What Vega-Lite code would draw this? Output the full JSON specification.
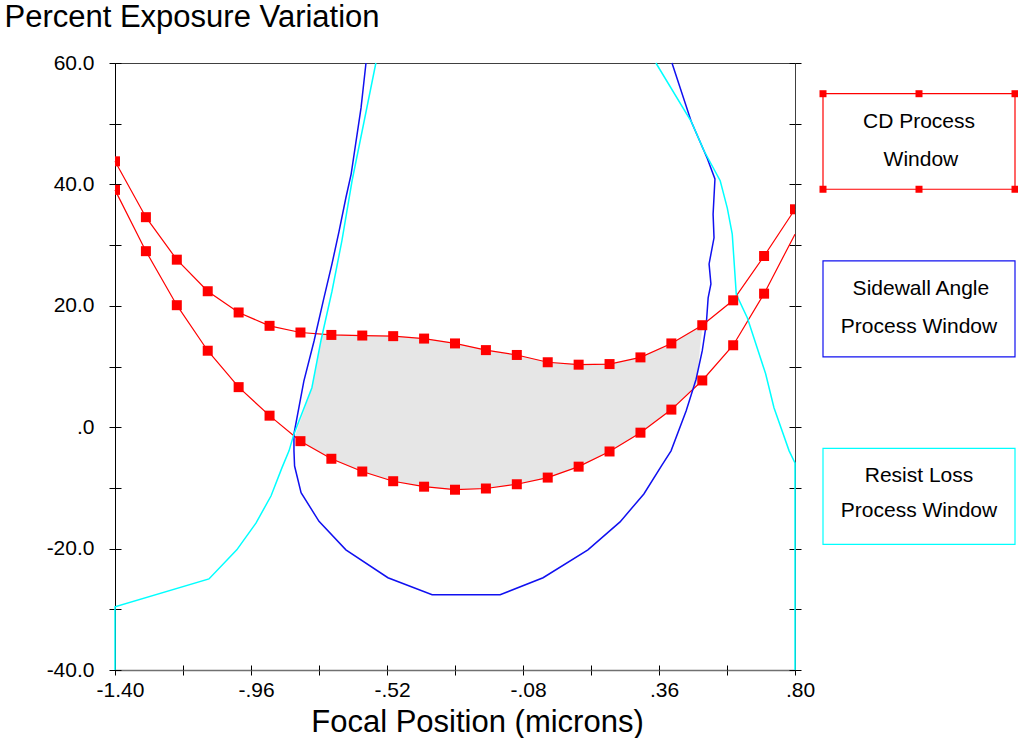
{
  "$schema": "https://vega.github.io/schema/vega-lite/v6.json",
  "padding": {"left": 3, "top": 0, "right": 0, "bottom": 0},
  "background": "white",
  "config": {
    "font": "Liberation Sans",
    "axis": {"labelFont": "Liberation Sans", "titleFont": "Liberation Sans", "grid": false, "tickColor": "#000", "labelColor": "#000", "titleColor": "#000", "titleFontWeight": "normal", "labelFontSize": 21, "tickWidth": 1},
    "text": {"font": "Liberation Sans"}
  },
  "datasets": {
    "cd": [
      {"curve": "upper", "x": -1.4, "y": 43.8}, {"curve": "upper", "x": -1.3, "y": 34.6}, {"curve": "upper", "x": -1.2, "y": 27.6}, {"curve": "upper", "x": -1.1, "y": 22.4}, {"curve": "upper", "x": -1.0, "y": 18.9}, {"curve": "upper", "x": -0.9, "y": 16.7}, {"curve": "upper", "x": -0.8, "y": 15.6}, {"curve": "upper", "x": -0.7, "y": 15.2}, {"curve": "upper", "x": -0.6, "y": 15.1}, {"curve": "upper", "x": -0.5, "y": 15.0}, {"curve": "upper", "x": -0.4, "y": 14.6}, {"curve": "upper", "x": -0.3, "y": 13.8}, {"curve": "upper", "x": -0.2, "y": 12.7}, {"curve": "upper", "x": -0.1, "y": 11.9}, {"curve": "upper", "x": 0.0, "y": 10.7}, {"curve": "upper", "x": 0.1, "y": 10.3}, {"curve": "upper", "x": 0.2, "y": 10.4}, {"curve": "upper", "x": 0.3, "y": 11.5}, {"curve": "upper", "x": 0.4, "y": 13.8}, {"curve": "upper", "x": 0.5, "y": 16.8}, {"curve": "upper", "x": 0.6, "y": 20.9}, {"curve": "upper", "x": 0.7, "y": 28.2}, {"curve": "upper", "x": 0.8, "y": 35.9},
      {"curve": "lower", "x": -1.4, "y": 39.1}, {"curve": "lower", "x": -1.3, "y": 29.0}, {"curve": "lower", "x": -1.2, "y": 20.1}, {"curve": "lower", "x": -1.1, "y": 12.6}, {"curve": "lower", "x": -1.0, "y": 6.6}, {"curve": "lower", "x": -0.9, "y": 1.9}, {"curve": "lower", "x": -0.8, "y": -2.3}, {"curve": "lower", "x": -0.7, "y": -5.2}, {"curve": "lower", "x": -0.6, "y": -7.3}, {"curve": "lower", "x": -0.5, "y": -8.9}, {"curve": "lower", "x": -0.4, "y": -9.8}, {"curve": "lower", "x": -0.3, "y": -10.3}, {"curve": "lower", "x": -0.2, "y": -10.1}, {"curve": "lower", "x": -0.1, "y": -9.4}, {"curve": "lower", "x": 0.0, "y": -8.3}, {"curve": "lower", "x": 0.1, "y": -6.5}, {"curve": "lower", "x": 0.2, "y": -4.0}, {"curve": "lower", "x": 0.3, "y": -0.9}, {"curve": "lower", "x": 0.4, "y": 2.9}, {"curve": "lower", "x": 0.5, "y": 7.7}, {"curve": "lower", "x": 0.6, "y": 13.5}, {"curve": "lower", "x": 0.7, "y": 22.0}, {"curve": "lower", "x": 0.8, "y": 31.8}
    ],
    "swa": [
      {"i": 0, "x": -0.588, "y": 60}, {"i": 1, "x": -0.604, "y": 52.6}, {"i": 2, "x": -0.636, "y": 41.7}, {"i": 3, "x": -0.653, "y": 37.8}, {"i": 4, "x": -0.675, "y": 32.3}, {"i": 5, "x": -0.698, "y": 26.9}, {"i": 6, "x": -0.724, "y": 21.3}, {"i": 7, "x": -0.756, "y": 14.2}, {"i": 8, "x": -0.789, "y": 7.6}, {"i": 9, "x": -0.821, "y": -1.1}, {"i": 10, "x": -0.821, "y": -3.9}, {"i": 11, "x": -0.819, "y": -6.4}, {"i": 12, "x": -0.798, "y": -10.8}, {"i": 13, "x": -0.74, "y": -15.5}, {"i": 14, "x": -0.653, "y": -20.2}, {"i": 15, "x": -0.517, "y": -24.8}, {"i": 16, "x": -0.374, "y": -27.6}, {"i": 17, "x": -0.154, "y": -27.6}, {"i": 18, "x": -0.015, "y": -24.8}, {"i": 19, "x": 0.13, "y": -20.2}, {"i": 20, "x": 0.234, "y": -15.6}, {"i": 21, "x": 0.311, "y": -11.0}, {"i": 22, "x": 0.37, "y": -6.2}, {"i": 23, "x": 0.399, "y": -3.9}, {"i": 24, "x": 0.448, "y": 2.7}, {"i": 25, "x": 0.48, "y": 7.9}, {"i": 26, "x": 0.5, "y": 12.6}, {"i": 27, "x": 0.513, "y": 17.0}, {"i": 28, "x": 0.519, "y": 21.3}, {"i": 29, "x": 0.528, "y": 23.6}, {"i": 30, "x": 0.522, "y": 26.9}, {"i": 31, "x": 0.538, "y": 31.2}, {"i": 32, "x": 0.535, "y": 35.1}, {"i": 33, "x": 0.541, "y": 40.9}, {"i": 34, "x": 0.516, "y": 44.3}, {"i": 35, "x": 0.464, "y": 50.4}, {"i": 36, "x": 0.402, "y": 60}
    ],
    "rl": [
      {"branch": "L", "i": 0, "x": -1.4, "y": -40}, {"branch": "L", "i": 1, "x": -1.4, "y": -29.6}, {"branch": "L", "i": 2, "x": -1.096, "y": -25.0}, {"branch": "L", "i": 3, "x": -1.006, "y": -20.2}, {"branch": "L", "i": 4, "x": -0.944, "y": -15.8}, {"branch": "L", "i": 5, "x": -0.895, "y": -11.3}, {"branch": "L", "i": 6, "x": -0.86, "y": -6.7}, {"branch": "L", "i": 7, "x": -0.837, "y": -3.9}, {"branch": "L", "i": 8, "x": -0.821, "y": -1.1}, {"branch": "L", "i": 9, "x": -0.763, "y": 6.5}, {"branch": "L", "i": 10, "x": -0.734, "y": 14.2}, {"branch": "L", "i": 11, "x": -0.698, "y": 22.4}, {"branch": "L", "i": 12, "x": -0.666, "y": 30.7}, {"branch": "L", "i": 13, "x": -0.633, "y": 40.6}, {"branch": "L", "i": 14, "x": -0.594, "y": 50.4}, {"branch": "L", "i": 15, "x": -0.556, "y": 60},
      {"branch": "R", "i": 16, "x": 0.35, "y": 60}, {"branch": "R", "i": 17, "x": 0.464, "y": 50.4}, {"branch": "R", "i": 18, "x": 0.506, "y": 45.5}, {"branch": "R", "i": 19, "x": 0.558, "y": 40.6}, {"branch": "R", "i": 20, "x": 0.581, "y": 36.1}, {"branch": "R", "i": 21, "x": 0.597, "y": 31.8}, {"branch": "R", "i": 22, "x": 0.61, "y": 21.9}, {"branch": "R", "i": 23, "x": 0.646, "y": 18.0}, {"branch": "R", "i": 24, "x": 0.705, "y": 8.8}, {"branch": "R", "i": 25, "x": 0.732, "y": 3.2}, {"branch": "R", "i": 26, "x": 0.781, "y": -3.9}, {"branch": "R", "i": 27, "x": 0.8, "y": -5.9}, {"branch": "R", "i": 28, "x": 0.8, "y": -40}
    ],
    "poly": [
      {"i": 0, "x": -0.818, "y": -1.6}, {"i": 1, "x": -0.763, "y": 6.5}, {"i": 2, "x": -0.729, "y": 15.3}, {"i": 3, "x": -0.7, "y": 15.2}, {"i": 4, "x": -0.6, "y": 15.1}, {"i": 5, "x": -0.5, "y": 15.0}, {"i": 6, "x": -0.4, "y": 14.6}, {"i": 7, "x": -0.3, "y": 13.8}, {"i": 8, "x": -0.2, "y": 12.7}, {"i": 9, "x": -0.1, "y": 11.9}, {"i": 10, "x": 0.0, "y": 10.7}, {"i": 11, "x": 0.1, "y": 10.3}, {"i": 12, "x": 0.2, "y": 10.4}, {"i": 13, "x": 0.3, "y": 11.5}, {"i": 14, "x": 0.4, "y": 13.8}, {"i": 15, "x": 0.5, "y": 16.8}, {"i": 16, "x": 0.49, "y": 12.0}, {"i": 17, "x": 0.482, "y": 7.0}, {"i": 18, "x": 0.4, "y": 2.9}, {"i": 19, "x": 0.3, "y": -0.9}, {"i": 20, "x": 0.2, "y": -4.0}, {"i": 21, "x": 0.1, "y": -6.5}, {"i": 22, "x": 0.0, "y": -8.3}, {"i": 23, "x": -0.1, "y": -9.4}, {"i": 24, "x": -0.2, "y": -10.1}, {"i": 25, "x": -0.3, "y": -10.3}, {"i": 26, "x": -0.4, "y": -9.8}, {"i": 27, "x": -0.5, "y": -8.9}, {"i": 28, "x": -0.6, "y": -7.3}, {"i": 29, "x": -0.7, "y": -5.2}, {"i": 30, "x": -0.8, "y": -2.3}
    ],
    "boxes": [
      {"box": "cd", "x1": 0, "x2": 1, "y1": 5.06, "y2": 20.8},
      {"box": "swa", "x1": 0, "x2": 1, "y1": 32.6, "y2": 48.4},
      {"box": "rl", "x1": 0, "x2": 1, "y1": 63.5, "y2": 79.3}
    ],
    "corners": [
      {"x": 0, "y": 5.06}, {"x": 0.5, "y": 5.06}, {"x": 1, "y": 5.06},
      {"x": 0, "y": 20.8}, {"x": 0.5, "y": 20.8}, {"x": 1, "y": 20.8}
    ],
    "labels": [
      {"t": "CD Process", "x": 0.5, "y": 9.8},
      {"t": "Window", "x": 0.51, "y": 15.9},
      {"t": "Sidewall Angle", "x": 0.51, "y": 37.3},
      {"t": "Process Window", "x": 0.5, "y": 43.5},
      {"t": "Resist Loss", "x": 0.5, "y": 68.0},
      {"t": "Process Window", "x": 0.5, "y": 73.8}
    ]
  },
  "bounds": "flush",
  "spacing": 28,
  "hconcat": [
    {
      "width": 680,
      "height": 607,
      "view": {"stroke": "#404040", "strokeWidth": 1},
      "resolve": {"axis": {"x": "independent", "y": "independent"}},
      "layer": [
        {
          "data": {"name": "poly"},
          "mark": {"type": "line", "fill": "#e6e6e6", "stroke": "#e6e6e6", "strokeWidth": 0.5},
          "encoding": {
            "x": {"field": "x", "type": "quantitative", "scale": {"domain": [-1.4, 0.8], "nice": false, "zero": false},
              "axis": {"orient": "bottom", "values": [-1.4, -1.18, -0.96, -0.74, -0.52, -0.3, -0.08, 0.14, 0.36, 0.58, 0.8], "labels": false, "tickSize": 5, "domainColor": "#707070", "domainWidth": 1.5,
                "title": "Focal Position (microns)", "titleFontSize": 31, "titleX": 362, "titleY": 61, "titleBaseline": "alphabetic", "titleAlign": "center", "titleAnchor": null}},
            "y": {"field": "y", "type": "quantitative", "scale": {"domain": [-40, 60], "nice": false, "zero": false},
              "axis": {"orient": "left", "values": [-40, -30, -20, -10, 0, 10, 20, 30, 40, 50, 60], "labels": false, "tickSize": 6, "domainColor": "#000",
                "title": "Percent Exposure Variation", "titleAngle": 0, "titleAlign": "left", "titleBaseline": "alphabetic", "titleX": -111, "titleY": -37, "titleFontSize": 31, "titleAnchor": null}},
            "order": {"field": "i", "type": "quantitative"}
          }
        },
        {
          "data": {"name": "cd"},
          "mark": {"type": "line", "color": "#ff0000", "strokeWidth": 1.2},
          "encoding": {
            "x": {"field": "x", "type": "quantitative", "scale": {"domain": [-1.4, 0.8], "nice": false, "zero": false},
              "axis": {"orient": "bottom", "values": [-1.4, -0.96, -0.52, -0.08, 0.36, 0.8], "ticks": false, "tickSize": 0, "domain": false, "labelPadding": 9, "labelOffset": 5, "labelFlush": false, "labelOverlap": false, "title": null,
                "labelExpr": "datum.value < -1 ? '-1.40' : datum.value < -0.9 ? '-.96' : datum.value < -0.5 ? '-.52' : datum.value < 0 ? '-.08' : datum.value < 0.5 ? '.36' : '.80'"}},
            "y": {"field": "y", "type": "quantitative", "scale": {"domain": [-40, 60], "nice": false, "zero": false},
              "axis": {"orient": "left", "values": [-40, -20, 0, 20, 40, 60], "ticks": false, "tickSize": 0, "domain": false, "labelPadding": 21, "labelFlush": false, "labelOverlap": false, "title": null,
                "labelExpr": "datum.value == 0 ? '.0' : ((datum.value < 0 ? '-' : '') + abs(datum.value) + '.0')"}},
            "detail": {"field": "curve", "type": "nominal"}
          }
        },
        {
          "data": {"name": "swa"},
          "mark": {"type": "line", "color": "#1010f0", "strokeWidth": 1.5},
          "encoding": {
            "x": {"field": "x", "type": "quantitative", "scale": {"domain": [-1.4, 0.8], "nice": false, "zero": false}, "axis": null},
            "y": {"field": "y", "type": "quantitative", "scale": {"domain": [-40, 60], "nice": false, "zero": false},
              "axis": {"orient": "right", "values": [-40, -30, -20, -10, 0, 10, 20, 30, 40, 50, 60], "labels": false, "tickSize": 6, "domainColor": "#404040", "title": null}},
            "order": {"field": "i", "type": "quantitative"}
          }
        },
        {
          "data": {"name": "rl"},
          "mark": {"type": "line", "color": "#00ffff", "strokeWidth": 1.5},
          "encoding": {
            "x": {"field": "x", "type": "quantitative", "scale": {"domain": [-1.4, 0.8], "nice": false, "zero": false}, "axis": null},
            "y": {"field": "y", "type": "quantitative", "scale": {"domain": [-40, 60], "nice": false, "zero": false},
              "axis": {"orient": "right", "values": [-40, -30, -20, -10, 0, 10, 20, 30, 40, 50, 60], "labels": false, "tickSize": -6, "domain": false, "title": null}},
            "detail": {"field": "branch", "type": "nominal"},
            "order": {"field": "i", "type": "quantitative"}
          }
        },
        {
          "data": {"name": "cd"},
          "transform": [{"filter": "!(datum.curve == 'lower' && datum.x >= 0.8)"}],
          "mark": {"type": "square", "size": 100, "filled": true, "color": "#ff0000", "opacity": 1, "clip": true},
          "encoding": {
            "x": {"field": "x", "type": "quantitative", "scale": {"domain": [-1.4, 0.8], "nice": false, "zero": false},
              "axis": {"orient": "bottom", "values": [-1.4, -1.18, -0.96, -0.74, -0.52, -0.3, -0.08, 0.14, 0.36, 0.58, 0.8], "labels": false, "tickSize": -5, "domain": false, "title": null}},
            "y": {"field": "y", "type": "quantitative", "scale": {"domain": [-40, 60], "nice": false, "zero": false},
              "axis": {"orient": "left", "values": [-40, -30, -20, -10, 0, 10, 20, 30, 40, 50, 60], "labels": false, "tickSize": -6, "domain": false, "title": null}}
          }
        }
      ]
    },
    {
      "width": 192,
      "height": 607,
      "view": {"stroke": null},
      "layer": [
        {
          "data": {"name": "boxes"},
          "mark": {"type": "rect", "filled": false, "strokeWidth": 1.2},
          "encoding": {
            "x": {"field": "x1", "type": "quantitative", "scale": {"domain": [0, 1], "nice": false, "zero": false}, "axis": null},
            "x2": {"field": "x2"},
            "y": {"field": "y1", "type": "quantitative", "scale": {"domain": [0, 100], "nice": false, "zero": false, "reverse": true}, "axis": null},
            "y2": {"field": "y2"},
            "color": {"field": "box", "type": "nominal", "scale": {"domain": ["cd", "swa", "rl"], "range": ["#ff0000", "#1010f0", "#00ffff"]}, "legend": null}
          }
        },
        {
          "data": {"name": "corners"},
          "mark": {"type": "square", "size": 49, "filled": true, "color": "#ff0000", "opacity": 1},
          "encoding": {
            "x": {"field": "x", "type": "quantitative", "axis": null},
            "y": {"field": "y", "type": "quantitative", "axis": null}
          }
        },
        {
          "data": {"name": "labels"},
          "mark": {"type": "text", "fontSize": 21, "font": "Liberation Sans", "color": "#000", "align": "center", "baseline": "middle"},
          "encoding": {
            "x": {"field": "x", "type": "quantitative", "axis": null},
            "y": {"field": "y", "type": "quantitative", "axis": null},
            "text": {"field": "t", "type": "nominal"}
          }
        }
      ]
    }
  ]
}
